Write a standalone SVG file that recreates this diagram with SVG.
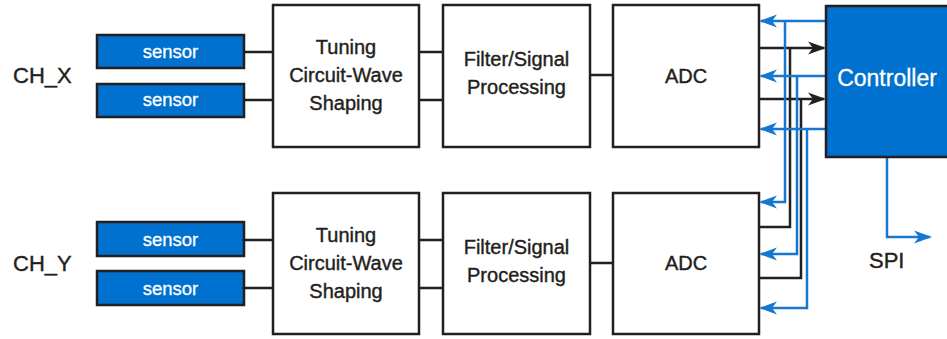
<svg xmlns="http://www.w3.org/2000/svg" width="947" height="339" viewBox="0 0 947 339">
<defs>
<style>
.box{fill:#ffffff;stroke:#231f20;stroke-width:2.5}
.sensor{fill:#0071ce;stroke:#231f20;stroke-width:2.5}
.ctrl{fill:#0071ce;stroke:#231f20;stroke-width:2.5}
.t{font-family:"Liberation Sans",Arial,Helvetica,sans-serif;font-size:20px;fill:#231f20;stroke:#231f20;stroke-width:0.4;text-anchor:middle}
.st{font-family:"Liberation Sans",Arial,Helvetica,sans-serif;font-size:18.5px;fill:#ffffff;stroke:#ffffff;stroke-width:0.3;text-anchor:middle}
.ct{font-family:"Liberation Sans",Arial,Helvetica,sans-serif;font-size:23px;fill:#ffffff;stroke:#ffffff;stroke-width:0.3;text-anchor:middle}
.lbl{font-family:"Liberation Sans",Arial,Helvetica,sans-serif;font-size:22px;fill:#231f20;stroke:#231f20;stroke-width:0.4}
.k{fill:none;stroke:#231f20;stroke-width:2.5}
.b{fill:none;stroke:#1577d0;stroke-width:2.5}
.ka{marker-end:url(#arrK)}
.ba{marker-end:url(#arrB)}
</style>
<marker id="arrK" viewBox="-18 -8 22 16" refX="0" refY="0" markerWidth="22" markerHeight="16" markerUnits="userSpaceOnUse" orient="auto">
<path d="M2,0 L-16,-6.5 L-11,0 L-16,6.5 Z" fill="#231f20"/>
</marker>
<marker id="arrB" viewBox="-18 -8 22 16" refX="0" refY="0" markerWidth="22" markerHeight="16" markerUnits="userSpaceOnUse" orient="auto">
<path d="M2,0 L-16,-6.5 L-11,0 L-16,6.5 Z" fill="#1577d0"/>
</marker>
</defs>

<g id="connectors">
<path class="k" d="M244,52 H273 M244,100 H273 M419,52 H443 M419,100 H443 M590,75 H613"/>
<path class="k" d="M244,240 H273 M244,288 H273 M419,240 H443 M419,288 H443 M590,263 H613"/>
<path class="k ka" d="M759,48 H824"/>
<path class="k ka" d="M759,99 H824"/>
<path class="k" d="M759,227 H790 V48"/>
<path class="k" d="M759,278 H801 V99"/>
<path class="b ba" d="M826,21 H761"/>
<path class="b ba" d="M826,76 H761"/>
<path class="b ba" d="M826,129 H761"/>
<path class="b ba" d="M785,21 V202 H761"/>
<path class="b ba" d="M797,76 V254 H761"/>
<path class="b ba" d="M807,129 V308 H761"/>
<path class="b ba" d="M887,157 V237 H930"/>
</g>

<g id="label-chx"><text class="lbl" x="13" y="83">CH_X</text></g>
<g id="label-chy"><text class="lbl" x="13" y="271">CH_Y</text></g>

<g id="sensor-x1"><rect class="sensor" x="97" y="35" width="147" height="33"/><text class="st" x="170.5" y="57.5">sensor</text></g>
<g id="sensor-x2"><rect class="sensor" x="97" y="84" width="147" height="33"/><text class="st" x="170.5" y="106">sensor</text></g>
<g id="sensor-y1"><rect class="sensor" x="97" y="222" width="147" height="34"/><text class="st" x="170.5" y="246">sensor</text></g>
<g id="sensor-y2"><rect class="sensor" x="97" y="271" width="147" height="34"/><text class="st" x="170.5" y="295">sensor</text></g>

<g id="tuning-x"><rect class="box" x="273" y="5" width="146" height="142"/>
<text class="t" x="346" y="54">Tuning</text><text class="t" x="346" y="82">Circuit-Wave</text><text class="t" x="346" y="110">Shaping</text></g>
<g id="filter-x"><rect class="box" x="443" y="5" width="147" height="142"/>
<text class="t" x="516.5" y="66">Filter/Signal</text><text class="t" x="516.5" y="94">Processing</text></g>
<g id="adc-x"><rect class="box" x="613" y="5" width="146" height="142"/>
<text class="t" x="686" y="83">ADC</text></g>

<g id="tuning-y"><rect class="box" x="273" y="193" width="146" height="141"/>
<text class="t" x="346" y="242">Tuning</text><text class="t" x="346" y="270">Circuit-Wave</text><text class="t" x="346" y="298">Shaping</text></g>
<g id="filter-y"><rect class="box" x="443" y="193" width="147" height="141"/>
<text class="t" x="516.5" y="254">Filter/Signal</text><text class="t" x="516.5" y="282">Processing</text></g>
<g id="adc-y"><rect class="box" x="613" y="193" width="146" height="141"/>
<text class="t" x="686" y="270">ADC</text></g>

<g id="controller"><rect class="ctrl" x="826" y="6" width="130" height="151"/>
<text class="ct" x="887" y="86">Controller</text></g>

<g id="label-spi"><text class="lbl" x="869" y="268">SPI</text></g>
</svg>
